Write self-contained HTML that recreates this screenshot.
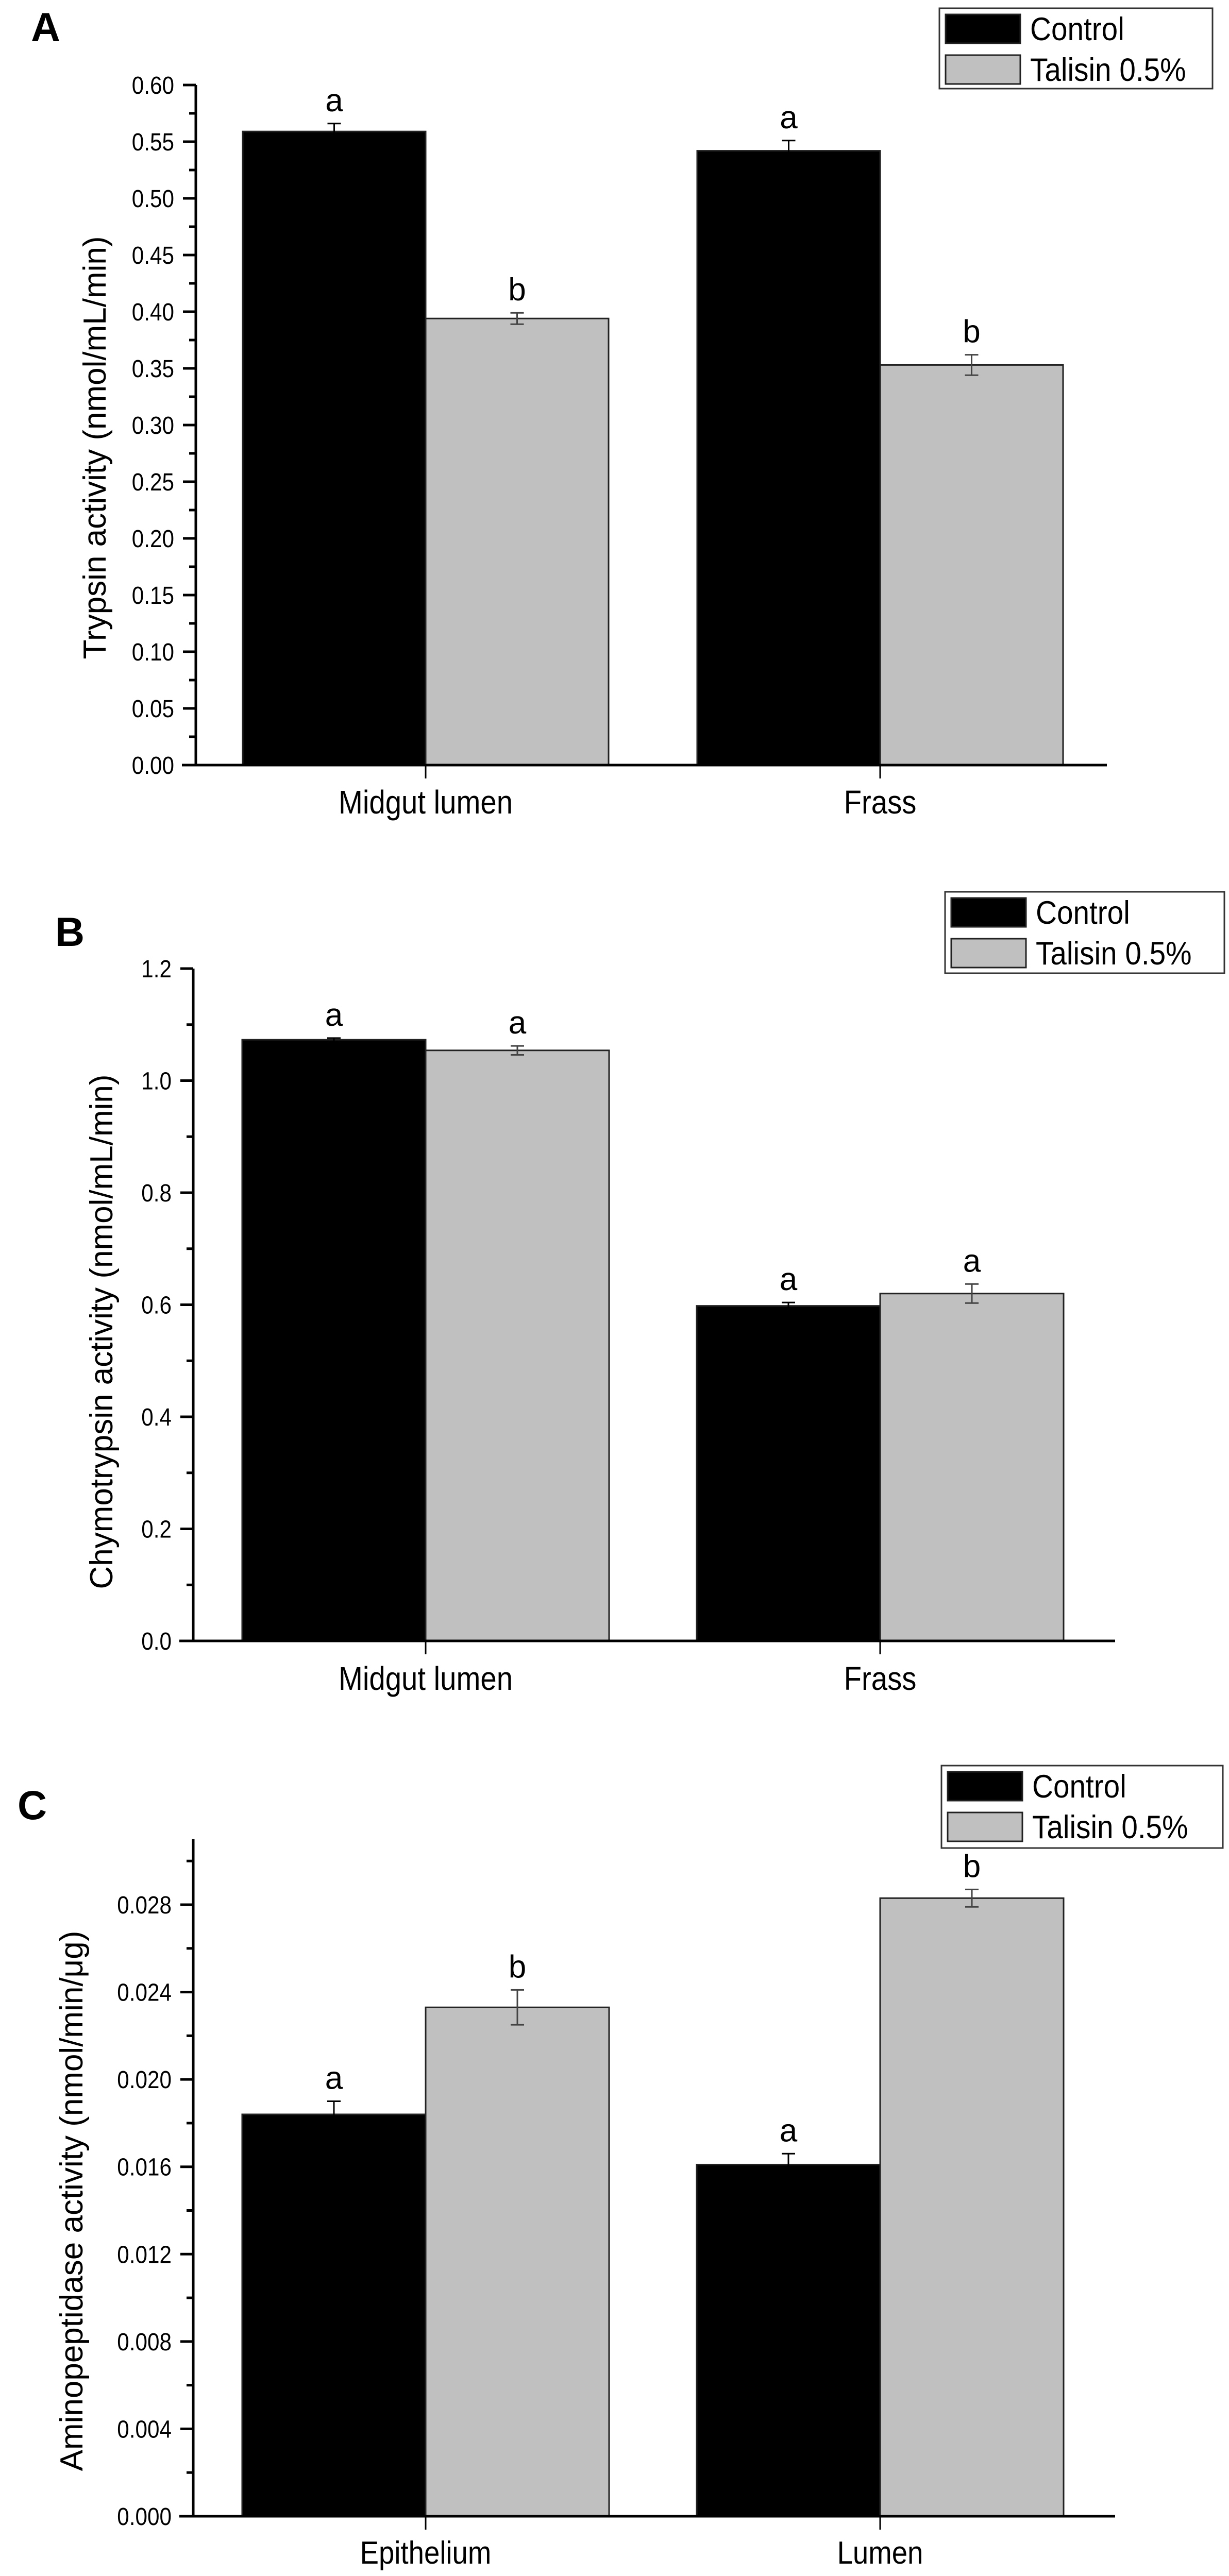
<!DOCTYPE html>
<html><head><meta charset="utf-8"><style>
html,body{margin:0;padding:0;background:#fff;width:2385px;height:5004px;overflow:hidden;}
svg{display:block;font-family:"Liberation Sans",Arial,sans-serif;}
</style></head><body>
<svg id="fig" width="2385" height="5004" viewBox="0 0 2385 5004" xmlns="http://www.w3.org/2000/svg" overflow="hidden"></svg>
<script>
// ---- Panel A data ----
const catsA = ["Midgut lumen", "Frass"];
const ctrlA = [0.559, 0.542];
const ctrlErrA = [0.007, 0.009];
const talA = [0.394, 0.353];
const talErrA = [0.005, 0.009];
const lettersCtrlA = ["a", "a"];
const lettersTalA = ["b", "b"];
const ticksA = ["0.00","0.05","0.10","0.15","0.20","0.25","0.30","0.35","0.40","0.45","0.50","0.55","0.60"];
// ---- Panel B data ----
const catsB = ["Midgut lumen", "Frass"];
const ctrlB = [1.073, 0.598];
const ctrlErrB = [0.003, 0.006];
const talB = [1.054, 0.620];
const talErrB = [0.008, 0.017];
const lettersCtrlB = ["a", "a"];
const lettersTalB = ["a", "a"];
const ticksB = ["0.0","0.2","0.4","0.6","0.8","1.0","1.2"];
// ---- Panel C data ----
const catsC = ["Epithelium", "Lumen"];
const ctrlC = [0.0184, 0.0161];
const ctrlErrC = [0.0006, 0.0005];
const talC = [0.0233, 0.0283];
const talErrC = [0.0008, 0.0004];
const lettersCtrlC = ["a", "a"];
const lettersTalC = ["b", "b"];
const ticksC = ["0.000","0.004","0.008","0.012","0.016","0.020","0.024","0.028"];

const NS = "http://www.w3.org/2000/svg";
const svg = document.getElementById("fig");
function mk(tag, attrs, parent, txt){
  const e = document.createElementNS(NS, tag);
  for (const k in attrs) e.setAttribute(k, attrs[k]);
  if (txt !== undefined) e.textContent = txt;
  (parent || svg).appendChild(e);
  return e;
}
function squeeze(t, r){ const w = t.getComputedTextLength(); t.setAttribute("textLength", (w*r).toFixed(1)); t.setAttribute("lengthAdjust","spacingAndGlyphs"); }

function panel(o){
  const g = mk("g", {});
  
  
  const vmax = o.vmax, vtop = o.vtop;
  const y = v => o.y0 - (v / vmax) * (o.y0 - o.yMax);
  const pl = mk("text", {x:o.lx, y:o.ly, "font-size":79, "font-weight":"bold", fill:"#000"}, g, o.letter);
  
  
  const series = [
    {vals:o.ctrl, err:o.ctrlErr, fill:"#000", ec:"#000", letters:o.lc, off:-1, name:"control"},
    {vals:o.tal, err:o.talErr, fill:"#c0c0c0", ec:"#444", letters:o.lt, off:0, name:"talisin"}
  ];
  series.forEach(s => {
    s.vals.forEach((v, i) => {
      const cx = o.centers[i];
      const x0 = cx + s.off * o.bw;
      const r = mk("rect", {x:x0, y:y(v), width:o.bw, height:o.y0 - y(v), fill:s.fill, stroke:"#222", "stroke-width":3}, g);
      
      
      const ex = x0 + o.bw/2;
      const eT = y(v + s.err[i]), eB = y(v - s.err[i]);
      const eg = mk("g", {stroke:s.ec, "stroke-width":3}, g);
      
      
      mk("line", {x1:ex, x2:ex, y1:eT, y2:eB}, eg);
      mk("line", {x1:ex-13, x2:ex+13, y1:eT, y2:eT}, eg);
      mk("line", {x1:ex-13, x2:ex+13, y1:eB, y2:eB}, eg);
      const lt = mk("text", {x:ex, y:eT - 24, "font-size":62, "text-anchor":"middle", fill:"#000"}, g, s.letters[i]);
      
      
    });
  });
  const ax = mk("line", {x1:o.ax, x2:o.ax, y1:y(vtop), y2:o.y0+2, stroke:"#000", "stroke-width":5}, g);
  
  
  const xa = mk("line", {x1:o.ax-27, x2:o.xr, y1:o.y0, y2:o.y0, stroke:"#000", "stroke-width":5}, g);
  
  
  const step = vmax / (o.ticks.length - 1);
  o.ticks.forEach((lab, i) => {
    const v = i * step, ty = y(v);
    mk("line", {x1:o.ax-25, x2:o.ax, y1:ty, y2:ty, stroke:"#000", "stroke-width":5}, g);
    const t = mk("text", {x:o.ax-42, y:ty+17, "font-size":48, "text-anchor":"end", fill:"#000"}, g, lab);
    
    
    squeeze(t, 0.88);
  });
  for (let v = step/2; v <= vtop + 1e-9; v += step) {
    if (Math.abs((v/step) - Math.round(v/step)) < 1e-6) continue;
    const ty = y(v);
    mk("line", {x1:o.ax-13, x2:o.ax, y1:ty, y2:ty, stroke:"#000", "stroke-width":5}, g);
  }
  o.cats.forEach((c, i) => {
    const cx = o.centers[i];
    mk("line", {x1:cx, x2:cx, y1:o.y0, y2:o.y0+26, stroke:"#000", "stroke-width":3}, g);
    const t = mk("text", {x:cx, y:o.xlb, "font-size":o.xfs || 64, "text-anchor":"middle", fill:"#000"}, g, c);
    
    
    squeeze(t, 0.88);
  });
  const yt = mk("text", {x:0, y:0, "font-size":62, "text-anchor":"middle", fill:"#000",
    transform:`translate(${o.tx},${o.ty}) rotate(-90)`}, g, o.title);
  
  
  const L = o.leg;
  const lg = mk("g", {}, g);
  
  
  mk("rect", {x:L.x, y:L.y, width:L.w, height:L.h, fill:"#fff", stroke:"#333", "stroke-width":3}, lg);
  const rows = [{fill:"#000", lab:"Control"}, {fill:"#c0c0c0", lab:"Talisin 0.5%"}];
  rows.forEach((r, i) => {
    const sy = L.y + 12 + i * 79;
    const sw = mk("rect", {x:L.x+12, y:sy, width:145, height:56, fill:r.fill, stroke:"#222", "stroke-width":3}, lg);
    
    
    const t = mk("text", {x:L.x+176, y:sy+50, "font-size":63, fill:"#000"}, lg, r.lab);
    
    
    squeeze(t, 0.9);
  });
}

panel({name:"panel-a-trypsin", letter:"A", lx:60, ly:80, cats:catsA, ctrl:ctrlA, ctrlErr:ctrlErrA, tal:talA, talErr:talErrA,
  lc:lettersCtrlA, lt:lettersTalA, ticks:ticksA, vmax:0.6, vtop:0.6, y0:1485, yMax:165, ax:380, xr:2148,
  centers:[826,1708], bw:355, xlb:1579, tx:205, ty:869, title:"Trypsin activity (nmol/mL/min)",
  leg:{x:1823, y:16, w:530, h:156}});
panel({name:"panel-b-chymotrypsin", letter:"B", lx:107, ly:1836, cats:catsB, ctrl:ctrlB, ctrlErr:ctrlErrB, tal:talB, talErr:talErrB,
  lc:lettersCtrlB, lt:lettersTalB, ticks:ticksB, vmax:1.2, vtop:1.2, y0:3185, yMax:1880, ax:375, xr:2164,
  centers:[826,1708], bw:356, xlb:3280, tx:218, ty:2585, title:"Chymotrypsin activity (nmol/mL/min)",
  leg:{x:1834, y:1731, w:542, h:158}});
panel({name:"panel-c-aminopeptidase", letter:"C", lx:34, ly:3531, cats:catsC, ctrl:ctrlC, ctrlErr:ctrlErrC, tal:talC, talErr:talErrC,
  lc:lettersCtrlC, lt:lettersTalC, ticks:ticksC, vmax:0.028, vtop:0.031, y0:4884, yMax:3697, ax:375, xr:2164,
  centers:[826,1708], bw:356, xlb:4976, xfs:62, tx:160, ty:4272, title:"Aminopeptidase activity (nmol/min/\u03bcg)",
  leg:{x:1827, y:3427, w:546, h:160}});
</script>
</body></html>
